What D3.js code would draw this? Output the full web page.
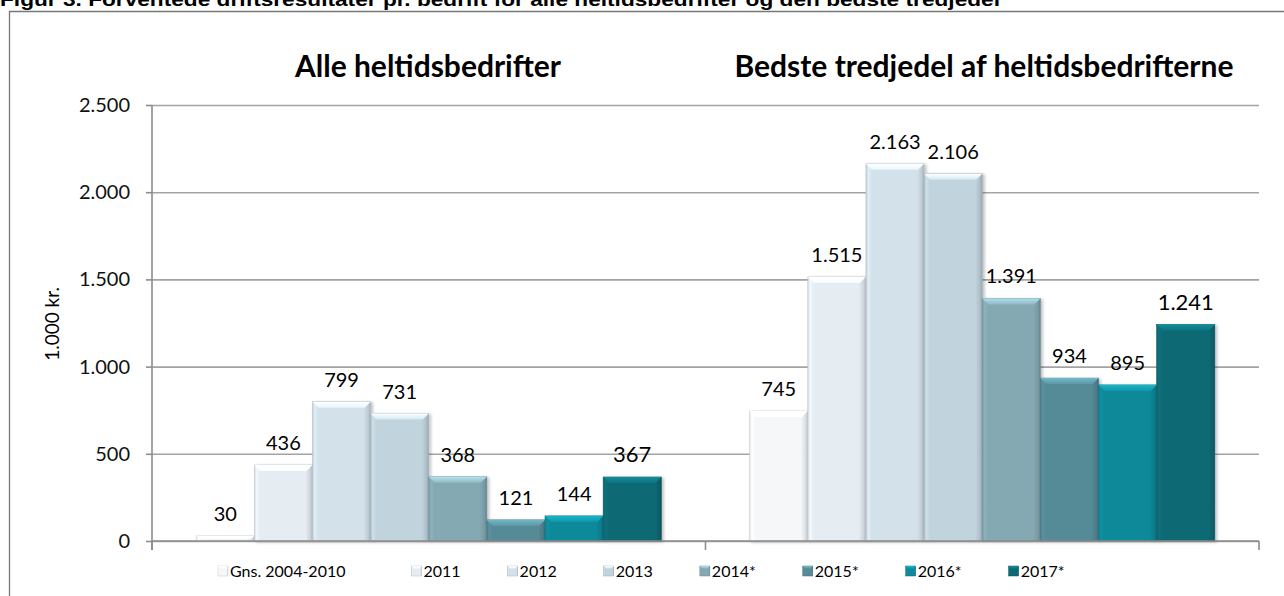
<!DOCTYPE html>
<html>
<head>
<meta charset="utf-8">
<script src="https://cdn.jsdelivr.net/npm/d3@7"></script>
<style>
  body { margin: 0; background: #fff; }
  svg { display: block; font-family: Lato, "Open Sans", sans-serif; }
</style>
</head>
<body>
<svg width="1284" height="596"></svg>
<script>
// data
const groups = ['Alle heltidsbedrifter', 'Bedste tredjedel af heltidsbedrifterne'];
const series = ['Gns. 2004-2010', '2011', '2012', '2013', '2014*', '2015*', '2016*', '2017*'];
const alleValues = [30, 436, 799, 731, 368, 121, 144, 367];
const bedsteValues = [745, 1515, 2163, 2106, 1391, 934, 895, 1241];
const yTicks = [0, 500, 1000, 1500, 2000, 2500];
const colors = ['#f5f7f9', '#e5ecf2', '#d3e2ea', '#c1d4de', '#84a9b3', '#558a97', '#10899a', '#0d6a75'];
const figTitle = 'Figur 3. Forventede driftsresultater pr. bedrift for alle heltidsbedrifter og den bedste tredjedel';
const yTitle = '1.000 kr.';

const svg = d3.select('svg');
const svgWidth = 1284;
const svgHeight = 596;

const da = d3.formatLocale({decimal: ',', thousands: '.', grouping: [3], currency: ['', ' kr.']});
const fmt = da.format(',d');

const plotLeft = 152, plotRight = 1259, plotTop = 105, plotBottom = 541;

const y = d3.scaleLinear().domain([0, 2500]).range([plotBottom, plotTop]);
const x0 = d3.scaleBand().domain(groups).range([plotLeft, plotRight]);
const x1 = d3.scaleBand().domain(series).range([0, x0.bandwidth()])
    .paddingInner(0).paddingOuter(0.76);
const color = d3.scaleOrdinal().domain(series).range(colors);

const data = groups.map((g, gi) => ({
    group: g,
    values: series.map((s, si) => ({
        series: s,
        value: (gi === 0 ? alleValues : bedsteValues)[si]
    }))
}));

// figure title, cut at the top like the original
svg.append('text')
    .attr('x', 0)
    .attr('y', 6)
    .attr('font-family', '"Liberation Sans", Arial, sans-serif')
    .attr('font-weight', 'bold')
    .attr('font-size', 18)
    .attr('textLength', 1000)
    .attr('lengthAdjust', 'spacingAndGlyphs')
    .text(figTitle);

// frame
svg.append('path')
    .attr('d', `M9.5,${svgHeight}V11.5H${svgWidth}`)
    .attr('fill', 'none')
    .attr('stroke', '#777')
    .attr('stroke-width', 1.3);

// gradients + soft shadow
const defs = svg.append('defs');
colors.forEach((c, i) => {
    const base = d3.color(c);
    const g = defs.append('linearGradient')
        .attr('id', 'side' + i)
        .attr('x1', 0).attr('x2', 1).attr('y1', 0).attr('y2', 0);
    [[0, base.darker(0.2)], [0.04, base.brighter(0.15)], [0.1, base], [0.88, base], [0.96, base.darker(0.3)], [1, base.darker(0.7)]]
        .forEach(([o, col]) => g.append('stop').attr('offset', o).attr('stop-color', col));
    const t = defs.append('linearGradient')
        .attr('id', 'top' + i)
        .attr('x1', 0).attr('x2', 0).attr('y1', 0).attr('y2', 1);
    [[0, base.brighter(0.8)], [1, base.brighter(0.25)]]
        .forEach(([o, col]) => t.append('stop').attr('offset', o).attr('stop-color', col));
});
defs.append('filter')
    .attr('id', 'shadow')
    .attr('x', '-10%').attr('y', '-10%').attr('width', '130%').attr('height', '120%')
    .append('feDropShadow')
    .attr('dx', 2).attr('dy', 1).attr('stdDeviation', 1.5)
    .attr('flood-color', '#000').attr('flood-opacity', 0.25);

// gridlines
svg.append('g')
    .attr('transform', `translate(${plotLeft},0)`)
    .call(d3.axisLeft(y).tickValues(yTicks).tickSize(-(plotRight - plotLeft)).tickFormat(''))
    .call(g => g.select('.domain').remove())
    .call(g => g.selectAll('line').attr('stroke', '#a3a3a3').attr('stroke-width', 1.6));

// bars
const bevel = 6;
const groupsG = svg.append('g').selectAll('g')
    .data(data)
    .join('g')
    .attr('transform', d => `translate(${x0(d.group)},0)`);

const bars = groupsG.selectAll('g.bar')
    .data(d => d.values)
    .join('g')
    .classed('bar', true);

bars.append('rect')
    .attr('x', d => x1(d.series))
    .attr('y', d => y(d.value))
    .attr('width', x1.bandwidth())
    .attr('height', d => y(0) - y(d.value))
    .attr('fill', d => `url(#side${series.indexOf(d.series)})`)
    .attr('stroke', d => d3.color(color(d.series)).darker(0.5))
    .attr('stroke-width', 0.6)
    .attr('filter', 'url(#shadow)');

bars.append('path')
    .attr('d', d => {
        const x = x1(d.series), w = x1.bandwidth(), t = y(d.value);
        const b = Math.min(bevel, (y(0) - t) / 2);
        return `M${x},${t}H${x + w}L${x + w - b},${t + b}H${x + b}Z`;
    })
    .attr('fill', d => `url(#top${series.indexOf(d.series)})`);

// value labels
bars.append('text')
    .attr('x', d => x1(d.series) + x1.bandwidth() / 2)
    .attr('y', d => y(d.value) - 15)
    .attr('text-anchor', 'middle')
    .attr('font-size', d => d.series === series[series.length - 1] ? 22 : 20)
    .attr('fill', '#000')
    .text(d => fmt(d.value));

// y axis
svg.append('g')
    .attr('transform', `translate(${plotLeft},0)`)
    .call(d3.axisLeft(y).tickValues(yTicks).tickSizeInner(6).tickSizeOuter(0).tickPadding(16).tickFormat(fmt))
    .call(g => g.select('.domain').attr('d', `M0,${plotTop}V${plotBottom + 9}`))
    .call(g => g.selectAll('path, line').attr('stroke', '#8c8c8c').attr('stroke-width', 1.6))
    .call(g => g.selectAll('text').attr('font-size', 20).attr('font-family', 'Lato, sans-serif').attr('fill', '#111'));

// x axis
const xb = svg.append('g');
xb.append('line')
    .attr('x1', plotLeft).attr('x2', plotRight)
    .attr('y1', y(0)).attr('y2', y(0))
    .attr('stroke', '#8c8c8c').attr('stroke-width', 1.6);
xb.selectAll('line.tick')
    .data([plotLeft].concat(groups.map(g => x0(g) + x0.bandwidth())))
    .join('line')
    .classed('tick', true)
    .attr('x1', d => d).attr('x2', d => d)
    .attr('y1', y(0)).attr('y2', y(0) + 9)
    .attr('stroke', '#8c8c8c').attr('stroke-width', 1.6);

// y title
svg.append('text')
    .attr('transform', `translate(59,${(plotTop + plotBottom) / 2 + 1}) rotate(-90)`)
    .attr('text-anchor', 'middle')
    .attr('font-size', 19)
    .text(yTitle);

// group titles
svg.append('g').selectAll('text')
    .data(groups)
    .join('text')
    .attr('x', (d, i) => i === 0 ? 428 : 984)
    .attr('y', 77)
    .attr('text-anchor', 'middle')
    .attr('font-weight', 'bold')
    .attr('font-size', 30)
    .text(d => d);

// legend
const legend = svg.append('g').attr('transform', 'translate(218,571)');
let lx = 0;
series.forEach((s, i) => {
    const item = legend.append('g').attr('transform', `translate(${lx},0)`);
    item.append('rect')
        .attr('x', 0).attr('y', -5)
        .attr('width', 10).attr('height', 10)
        .attr('fill', `url(#side${i})`)
        .attr('stroke', d3.color(colors[i]).darker(0.6))
        .attr('stroke-width', 0.5);
    item.append('path')
        .attr('d', 'M0,-5H10L7.5,-2.5H2.5Z')
        .attr('fill', `url(#top${i})`);
    const t = item.append('text')
        .attr('x', 12)
        .attr('y', 6)
        .attr('font-size', 16)
        .text(s);
    lx += 12 + t.node().getComputedTextLength() + (i === 0 ? 66 : 47);
});
</script>
</body>
</html>
